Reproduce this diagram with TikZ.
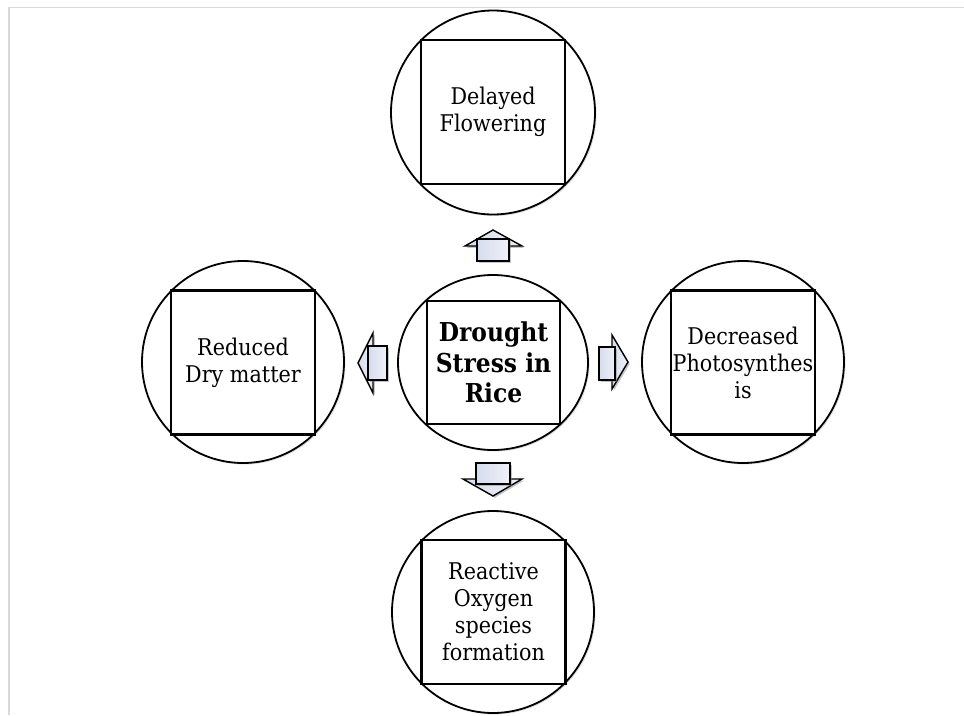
\documentclass[tikz,border=0pt]{standalone}
\usepackage{fontspec}
\setmainfont[FakeStretch=0.9]{DejaVu Serif}
\usetikzlibrary{shadows,shapes.geometric}
\definecolor{arrowfill}{HTML}{D5DCEC}
\definecolor{arrowlight}{HTML}{EEF1F8}
\definecolor{framegray}{HTML}{D9D9D9}
\begin{document}
\begin{tikzpicture}[x=1pt,y=-1pt,
  ring/.style={draw=black, line width=1.8pt, fill=white, inner sep=0pt,
    drop shadow={opacity=0.25, shadow xshift=1.5pt, shadow yshift=-1.5pt}},
  sqbox/.style={draw=black, line width=2.2pt, fill=white, inner sep=0pt,
    minimum width=144pt, minimum height=144pt, align=center,
    font=\fontsize{23}{27}\selectfont},
  blockarrow/.style={draw=black, line width=1.4pt, left color=arrowfill, right color=arrowlight,
    line join=miter,
    drop shadow={opacity=0.45, shadow xshift=1.8pt, shadow yshift=-1.8pt}}
]
\useasboundingbox (0,0) rectangle (964,715);
\fill[white] (0,0) rectangle (964,715);
\draw[framegray, line width=1.5pt] (964,7.5) -- (9,7.5) -- (9,715);

% circles
\node[ring, circle, minimum size=204pt] (ctop) at (493,112.5) {};
\node[ring, circle, minimum size=202pt] (cleft) at (243,362) {};
\node[ring, circle, minimum size=202pt] (cright) at (743,362) {};
\node[ring, circle, minimum size=202pt] (cbot) at (493,612) {};
\node[ring, ellipse, minimum width=190pt, minimum height=175pt] (cmid) at (493,362.5) {};

% squares with text
\node[sqbox] (btop) at (493,112) {Delayed\\Flowering};
\node[sqbox] (bleft) at (243,362.5) {Reduced\\Dry matter};
\node[sqbox] (bright) at (743,362.5) {Decreased\\Photosynthes\\is};
\node[sqbox] (bbot) at (493.5,612) {Reactive\\Oxygen\\species\\formation};
\node[sqbox, minimum width=133pt, minimum height=123pt,
  font=\fontsize{26}{30.5}\selectfont\bfseries] (bmid) at (493.5,362.5) {Drought\\Stress in\\Rice};

% block arrows
% up
\draw[blockarrow] (493,230) -- (522,246) -- (465,246) -- cycle;
\draw[blockarrow] (477,239) rectangle (509,261);
% left
\draw[blockarrow] (358,363) -- (373,333) -- (373,393) -- cycle;
\draw[blockarrow] (368,346) rectangle (387,380);
% right
\draw[blockarrow] (628,362) -- (612,335) -- (612,389) -- cycle;
\draw[blockarrow] (599,347) rectangle (615,380);
% down
\draw[blockarrow] (493,496) -- (463,479) -- (522,479) -- cycle;
\draw[blockarrow] (476,463) rectangle (510,484);
\end{tikzpicture}
\end{document}
